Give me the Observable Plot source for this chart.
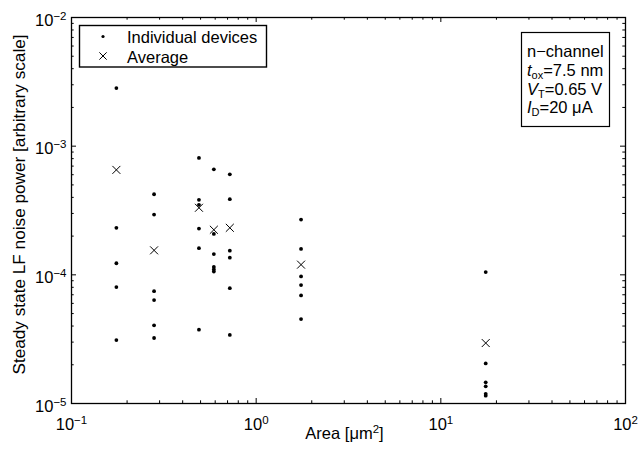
<!DOCTYPE html>
<html><head><meta charset="utf-8">
<script src="https://cdn.jsdelivr.net/npm/d3@7"></script>
<script src="https://cdn.jsdelivr.net/npm/@observablehq/plot@0.6"></script>
<style>body{margin:0;background:#fff}</style>
</head><body><div id="chart"></div>
<script>
// ---- data ----
const areas = [0.175, 0.28, 0.49, 0.59, 0.72, 1.75, 17.5];
const devices_0175 = [2.83e-3, 2.32e-4, 1.23e-4, 8.03e-5, 3.11e-5];
const devices_028  = [4.23e-4, 2.94e-4, 7.47e-5, 6.37e-5, 4.05e-5, 3.23e-5];
const devices_049  = [8.10e-4, 3.83e-4, 3.50e-4, 2.29e-4, 1.61e-4, 3.75e-5];
const devices_059  = [6.61e-4, 2.08e-4, 1.45e-4, 1.15e-4, 1.10e-4, 1.06e-4];
const devices_072  = [6.04e-4, 3.87e-4, 1.54e-4, 1.36e-4, 7.88e-5, 3.41e-5];
const devices_175  = [2.69e-4, 1.59e-4, 9.72e-5, 8.32e-5, 6.92e-5, 4.53e-5];
const devices_175b = [1.05e-4, 2.05e-5, 1.46e-5, 1.36e-5, 1.19e-5, 1.15e-5];
const averages     = [6.54e-4, 1.55e-4, 3.32e-4, 2.24e-4, 2.32e-4, 1.20e-4, 2.95e-5];

const xMajor = [0.1, 1, 10, 100];
const yMajor = [1e-5, 1e-4, 1e-3, 1e-2];
const xTitle = "Area [μm^2^]";
const yTitle = "Steady state LF noise power [arbitrary scale]";
const legendLabels = ["Individual devices", "Average"];
const noteLines = ["n−channel", "t|ox|=7.5 nm", "V|T|=0.65 V", "I|D|=20 μA"];

// ---- tables ----
const groups = [devices_0175, devices_028, devices_049, devices_059, devices_072, devices_175, devices_175b];
const devices = areas.flatMap((a, i) => groups[i].map(v => ({area: a, power: v})));
const avg = areas.map((a, i) => ({area: a, power: averages[i]}));
const minorOf = majors => majors.slice(0, -1).flatMap(m => [2,3,4,5,6,7,8,9].map(k => k * m));
const xMinor = minorOf(xMajor), yMinor = minorOf(yMajor);

const FONT = "'Liberation Sans', Arial, sans-serif";
const W = 638, H = 450, mL = 71, mR = 13, mT = 17, mB = 47;
const pw = W - mL - mR, ph = H - mT - mB;
const TK = 5, TKm = 2.7;
const fmt = d => "10^" + String(Math.round(Math.log10(d))).replace("-", "−");

const plot = Plot.plot({
  width: W, height: H,
  marginLeft: mL, marginRight: mR, marginTop: mT, marginBottom: mB,
  style: {fontFamily: FONT, fontSize: "16.5px", color: "black", background: "white", overflow: "visible"},
  x: {type: "log", domain: [0.1, 100]},
  y: {type: "log", domain: [1e-5, 1e-2]},
  marks: [
    Plot.tickX(xMajor, {x: d => d, insetTop: ph - TK, stroke: "black"}),
    Plot.tickX(xMajor, {x: d => d, insetBottom: ph - TK, stroke: "black"}),
    Plot.tickX(xMinor, {x: d => d, insetTop: ph - TKm, stroke: "black"}),
    Plot.tickX(xMinor, {x: d => d, insetBottom: ph - TKm, stroke: "black"}),
    Plot.tickY(yMajor, {y: d => d, insetRight: pw - TK, stroke: "black"}),
    Plot.tickY(yMajor, {y: d => d, insetLeft: pw - TK, stroke: "black"}),
    Plot.tickY(yMinor, {y: d => d, insetRight: pw - TKm, stroke: "black"}),
    Plot.tickY(yMinor, {y: d => d, insetLeft: pw - TKm, stroke: "black"}),
    Plot.frame({stroke: "black", strokeWidth: 1.3}),
    Plot.axisX(xMajor, {anchor: "bottom", tickSize: 0, tickPadding: 15, tickFormat: fmt, label: null}),
    Plot.axisY(yMajor, {anchor: "left", tickSize: 0, tickPadding: 5, dy: 3, tickFormat: fmt, label: null}),
    Plot.text([xTitle], {frameAnchor: "bottom", textAnchor: "middle", dy: 35, dx: -4, text: d => d, fill: "black"}),
    Plot.text([yTitle], {frameAnchor: "left", textAnchor: "middle", rotate: -90, dx: -52, dy: -6, fontSize: 17.2, text: d => d, fill: "black"}),
    Plot.dot(devices, {x: "area", y: "power", r: 1.9, fill: "black"}),
    Plot.dot(avg, {x: "area", y: "power", r: 3.7, symbol: "times", stroke: "black", strokeWidth: 1})
  ]
});
document.getElementById("chart").appendChild(plot);

const svg = d3.select(plot);
// superscripts in tick labels
svg.selectAll('g[aria-label="x-axis tick label"] text, g[aria-label="y-axis tick label"] text').each(function() {
  const t = d3.select(this);
  const [base, exp] = t.text().split("^");
  t.text(null);
  t.append("tspan").text(base);
  t.append("tspan").attr("dy", "-6").attr("font-size", "11.5px").text(exp);
});
// superscript in the x title
svg.selectAll("text").each(function() {
  const t = d3.select(this);
  const s = t.text();
  if (!s.includes("^") || t.selectAll("tspan").size() > 1) return;
  const [a, b, c] = s.split("^");
  t.text(null);
  t.append("tspan").text(a);
  t.append("tspan").attr("dy", "-6").attr("font-size", "11.5px").text(b);
  t.append("tspan").attr("dy", "6").text(c);
});

// legend
const lg = svg.append("g").attr("font-size", 16.5).attr("font-family", FONT).attr("text-anchor", "start").attr("fill", "black");
lg.append("rect").attr("x", 79.5).attr("y", 25.5).attr("width", 187).attr("height", 41.5)
  .attr("fill", "white").attr("stroke", "black").attr("stroke-width", 1.4);
lg.append("circle").attr("cx", 103).attr("cy", 36.5).attr("r", 1.6).attr("fill", "black");
lg.append("path").attr("transform", "translate(103,56)")
  .attr("d", d3.symbol(d3.symbolTimes, 3.4 * 3.4 * Math.PI)()).attr("stroke", "black").attr("fill", "none");
lg.append("text").attr("x", 127).attr("y", 42.5).text(legendLabels[0]);
lg.append("text").attr("x", 127).attr("y", 62.5).text(legendLabels[1]);

// note box
const nb = svg.append("g").attr("font-size", 16.5).attr("font-family", FONT).attr("text-anchor", "start").attr("fill", "black");
nb.append("rect").attr("x", 521.5).attr("y", 32.5).attr("width", 88).attr("height", 94)
  .attr("fill", "white").attr("stroke", "black").attr("stroke-width", 1.2);
noteLines.forEach((line, i) => {
  const t = nb.append("text").attr("x", 527).attr("y", 57 + i * 18.8);
  const parts = line.split("|");
  if (parts.length === 1) { t.text(line); return; }
  t.append("tspan").attr("font-style", "italic").text(parts[0]);
  t.append("tspan").attr("dy", 3).attr("font-size", "11px").text(parts[1]);
  t.append("tspan").attr("dy", -3).text(parts[2]);
});
</script>
</body></html>
